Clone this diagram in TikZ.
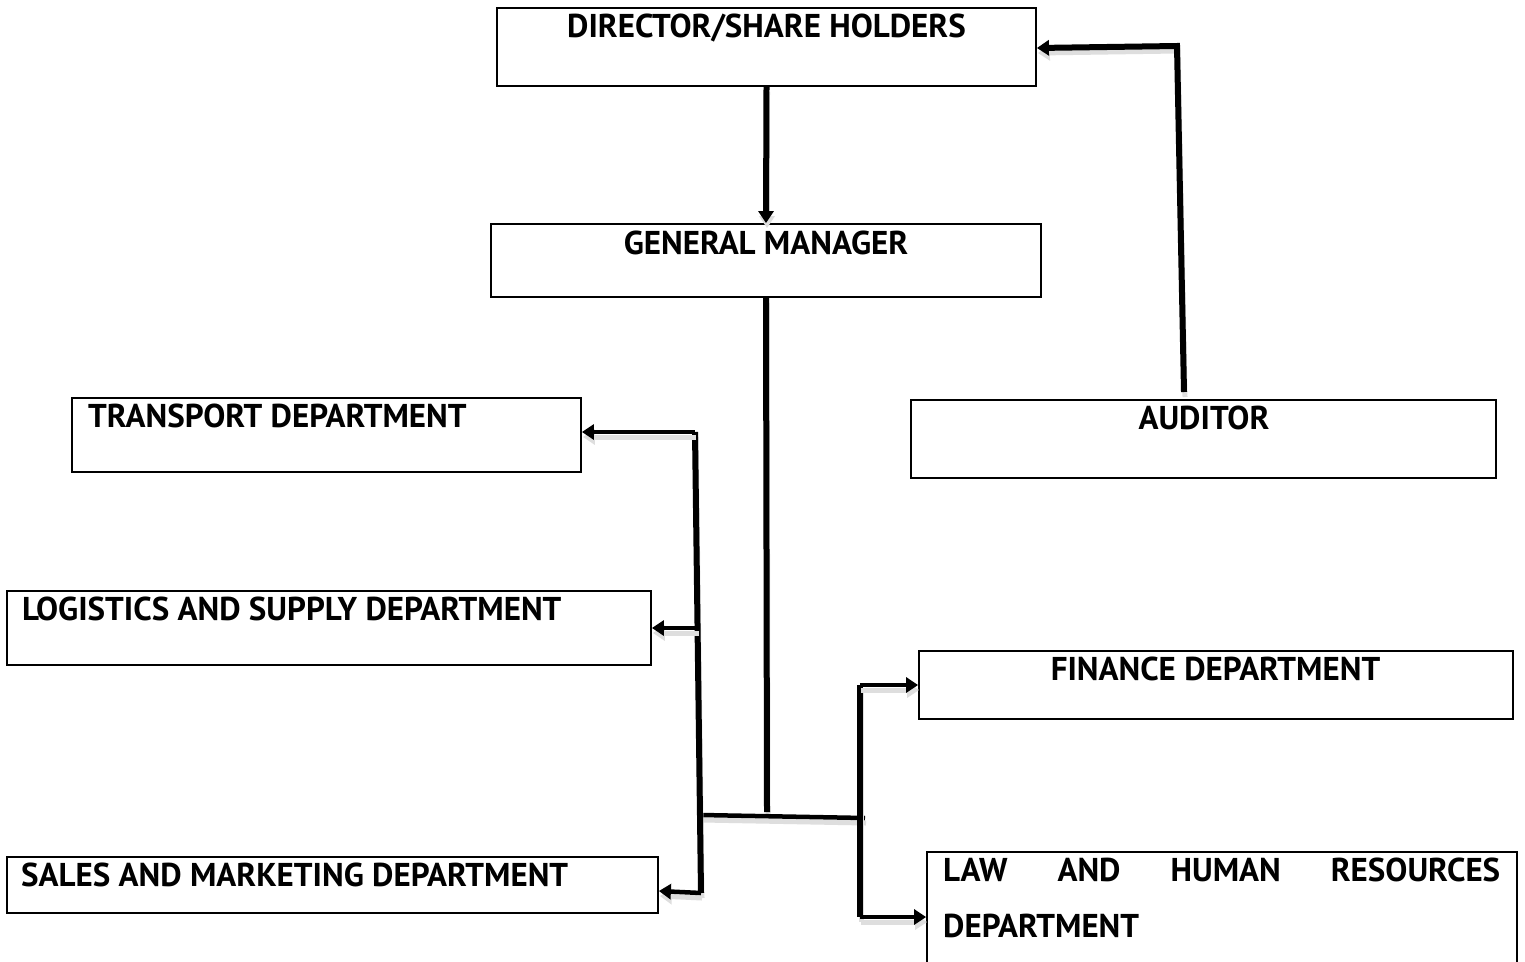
\documentclass[tikz,border=0pt]{standalone}
\usepackage{fontspec}
\setmainfont{PT Sans}
\usetikzlibrary{arrows.meta}
\begin{document}
\begin{tikzpicture}[x=1pt,y=-1pt,
  box/.style={draw=black, line width=1.8pt, rectangle, inner sep=0pt},
  lbl/.style={font=\fontsize{33}{40}\selectfont\bfseries, inner sep=0pt},
  conn/.style={line width=6pt, line cap=butt,
    preaction={draw=black!13, line width=5pt, transform canvas={xshift=1pt,yshift=-5pt}}},
  arr/.style={conn, -{Triangle[length=12pt,width=15pt]}}
]
\useasboundingbox (0,0) rectangle (1525,961);
\clip (0,0) rectangle (1525,961);
\fill[white] (0,0) rectangle (1525,961);

% boxes
\node[box, minimum width=539pt, minimum height=78pt] (dir) at (766.5,47) {};
\node[box, minimum width=550pt, minimum height=73pt] (gm) at (766,260.5) {};
\node[box, minimum width=509pt, minimum height=74pt] (trans) at (326.5,435) {};
\node[box, minimum width=585pt, minimum height=78pt] (aud) at (1203.5,439) {};
\node[box, minimum width=644pt, minimum height=74pt] (log) at (329,628) {};
\node[box, minimum width=594pt, minimum height=68pt] (fin) at (1216,685) {};
\node[box, minimum width=651pt, minimum height=56pt] (sales) at (332.5,885) {};
\node[box, minimum width=590pt, minimum height=124pt] (law) at (1222,914) {};

% labels
\node[lbl, anchor=base] (dirT) at (766.5,37) {DIRECTOR/SHARE HOLDERS};
\node[lbl, anchor=base] (gmT) at (766,254) {GENERAL MANAGER};
\node[lbl, anchor=base west] (transT) at (88,427) {TRANSPORT DEPARTMENT};
\node[lbl, anchor=base] (audT) at (1204,429) {AUDITOR};
\node[lbl, anchor=base west] (logT) at (22,620) {LOGISTICS AND SUPPLY DEPARTMENT};
\node[lbl, anchor=base] (finT) at (1215.5,680) {FINANCE DEPARTMENT};
\node[lbl, anchor=base west] (salesT) at (21,886) {SALES AND MARKETING DEPARTMENT};
\node[lbl, anchor=base west] (lawT1) at (943,881) {\makebox[557pt][s]{LAW\hfill AND\hfill HUMAN\hfill RESOURCES}};
\node[lbl, anchor=base west] (lawT2) at (943,937) {DEPARTMENT};

% junction coordinates
\coordinate (gmEnd) at (767,812);
\coordinate (hL) at (701,815);
\coordinate (hR) at (865,818);
\coordinate (lvTop) at (695,432);
\coordinate (lvMid) at (698,628);
\coordinate (lvBot) at (701,893);
\coordinate (rvTop) at (860,685);
\coordinate (rvBot) at (860,917);
\coordinate (audTop) at (1184,392);
\coordinate (audBend) at (1177,46);

% connectors
\draw[arr] (dir.south) -- (gm.north);
\draw[conn] (gm.south) -- (gmEnd);
\draw[conn, line width=4.5pt] (hL) -- (hR);
\draw[conn] (lvTop) -- (lvBot);
\draw[conn] (rvTop) -- (rvBot);
\draw[arr, line width=4.5pt] (lvTop) -- (lvTop -| trans.east);
\draw[arr, line width=4.5pt] (lvMid) -- (lvMid -| log.east);
\draw[arr, line width=4.5pt] (lvBot) -- ([yshift=2pt]lvBot -| sales.east);
\draw[arr, line width=4.5pt] (rvTop) -- (rvTop -| fin.west);
\draw[arr, line width=4.5pt] (rvBot) -- (rvBot -| law.west);
\draw[arr] (audTop) -- (audBend) -- ([yshift=-2pt]audBend -| dir.east);
\end{tikzpicture}
\end{document}
